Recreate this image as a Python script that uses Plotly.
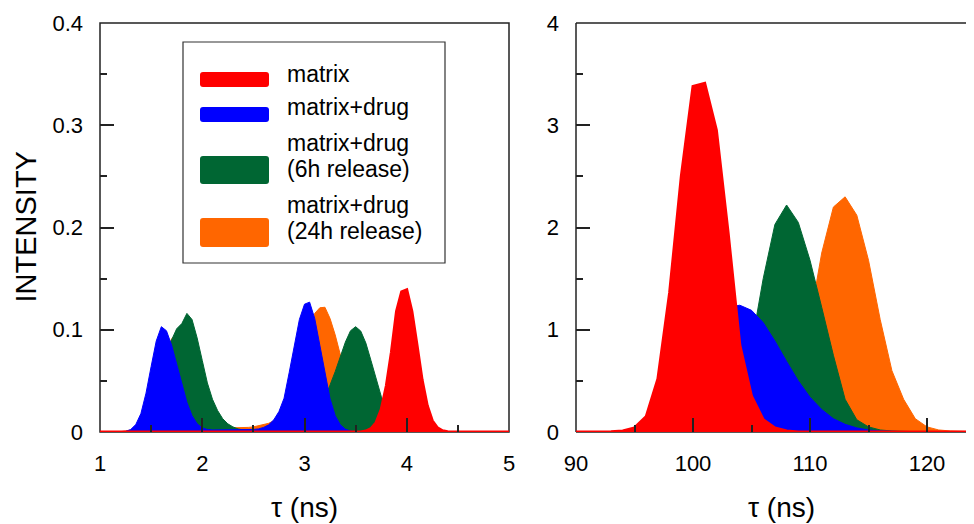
import numpy as np
import plotly.graph_objects as go

# ---------------- data ----------------
# left panel: short lifetimes (ns), sampled every 0.05 ns from 1 to 5
tau_short = np.round(np.linspace(1.0, 5.0, 81), 2)

matrix_short = [0]*52 + [0.0009, 0.0032, 0.0092, 0.022, 0.045, 0.078, 0.118, 0.137, 0.139,
                         0.118, 0.085, 0.051, 0.026, 0.011, 0.004, 0.0012, 0.0003] + [0]*12

drug_short = [0, 0, 0, 0, 0.0002, 0.0006, 0.0024, 0.0073, 0.018, 0.038, 0.064, 0.089, 0.103,
              0.099, 0.085, 0.066, 0.046, 0.029, 0.016, 0.008, 0.004, 0.0025, 0.002, 0.002,
              0.002, 0.002, 0.002, 0.002, 0.002, 0.002, 0.0025, 0.003, 0.0045, 0.007, 0.012,
              0.02, 0.033, 0.058, 0.085, 0.11, 0.125, 0.127, 0.111, 0.085, 0.056, 0.0325,
              0.016, 0.007, 0.0027, 0.001, 0.0003] + [0]*30

drug6h_short = [0, 0, 0, 0, 0, 0.0005, 0.001, 0.003, 0.008, 0.016, 0.028, 0.045, 0.063, 0.078,
                0.09, 0.101, 0.106, 0.116, 0.11, 0.092, 0.07, 0.048, 0.032, 0.021, 0.013, 0.008,
                0.005, 0.003, 0.002, 0.0015, 0.0012, 0.001, 0.001, 0.001, 0.001, 0.001, 0.001,
                0.0012, 0.0015, 0.002, 0.003, 0.006, 0.012, 0.021, 0.033, 0.046, 0.059, 0.074,
                0.088, 0.099, 0.103, 0.0987, 0.087, 0.07, 0.052, 0.035, 0.022, 0.0124, 0.0065,
                0.0031, 0.0014, 0.0006, 0.0002] + [0]*18

drug24h_short = [0, 0, 0, 0, 0.0003, 0.001, 0.002, 0.004, 0.008, 0.015, 0.027, 0.043, 0.062,
                 0.08, 0.091, 0.096, 0.096, 0.088, 0.072, 0.054, 0.037, 0.024, 0.015, 0.009,
                 0.006, 0.004, 0.004, 0.004, 0.004, 0.0045, 0.005, 0.006, 0.007, 0.0085, 0.011,
                 0.016, 0.025, 0.037, 0.052, 0.07, 0.088, 0.104, 0.116, 0.1215, 0.122, 0.111,
                 0.095, 0.075, 0.055, 0.037, 0.023, 0.013, 0.007, 0.003, 0.0015, 0.0005] + [0]*25

# right panel: long lifetimes (ns), sampled every 1 ns from 90 to 125
tau_long = list(range(90, 126))

matrix_long = [0, 0, 0, 0.003, 0.01, 0.04, 0.15, 0.52, 1.36, 2.5, 3.38, 3.41, 2.95, 1.95, 0.85,
               0.35, 0.12, 0.04, 0.01] + [0]*17

drug_long = [0.002, 0.002, 0.003, 0.005, 0.01, 0.03, 0.07, 0.15, 0.3, 0.5, 0.72, 0.95, 1.12,
             1.22, 1.24, 1.19, 1.07, 0.89, 0.69, 0.5, 0.34, 0.22, 0.13, 0.075, 0.04, 0.02, 0.01,
             0.005, 0.002] + [0]*7

drug6h_long = [0, 0, 0, 0, 0.005, 0.01, 0.02, 0.04, 0.07, 0.12, 0.19, 0.28, 0.4, 0.55, 0.75,
               0.85, 1.5, 2.03, 2.22, 2.05, 1.68, 1.22, 0.75, 0.32, 0.12, 0.05, 0.02, 0.01,
               0.005] + [0]*7

drug24h_long = [0, 0, 0, 0, 0, 0, 0, 0.002, 0.004, 0.006, 0.01, 0.02, 0.04, 0.07, 0.11, 0.17,
                0.26, 0.38, 0.52, 0.75, 1.1, 1.75, 2.2, 2.3, 2.12, 1.68, 1.1, 0.6, 0.32, 0.13,
                0.05, 0.02, 0.01, 0.005, 0, 0]

series_names = ["matrix", "matrix+drug", "matrix+drug\n(6h release)", "matrix+drug\n(24h release)"]
colors = ["#FF0000", "#0000FF", "#006633", "#FF6600"]

# ---------------- figure ----------------
WIN_W, WIN_H = 974, 524
OFF = 8  # page body margin offset
W, H = WIN_W - OFF, WIN_H - OFF
FONT = "Liberation Sans, Arial, sans-serif"
AX = "#222222"


def px(p):
    return (p - OFF) / W


def py(p):
    return 1 - (p - OFF) / H


fig = go.Figure()

short = [matrix_short, drug_short, drug6h_short, drug24h_short]
long_ = [matrix_long, drug_long, drug6h_long, drug24h_long]
# draw order: 24h, 6h, drug, matrix (matrix on top)
for idx in [3, 2, 1, 0]:
    lw = 3 if idx == 0 else 1
    fig.add_trace(go.Scatter(x=tau_short, y=short[idx], mode="lines", fill="tozeroy",
                             fillcolor=colors[idx], line=dict(color=colors[idx], width=lw),
                             xaxis="x", yaxis="y", showlegend=False, hoverinfo="skip"))
for idx in [3, 2, 1, 0]:
    lw = 3 if idx == 0 else 1
    fig.add_trace(go.Scatter(x=tau_long, y=long_[idx], mode="lines", fill="tozeroy",
                             fillcolor=colors[idx], line=dict(color=colors[idx], width=lw),
                             xaxis="x2", yaxis="y2", showlegend=False, hoverinfo="skip"))

ydom = [py(432), py(23)]
common = dict(showgrid=False, zeroline=False, showline=False, ticks="inside", ticklen=14,
              tickwidth=2, tickcolor=AX, tickfont=dict(size=22, color="black", family=FONT),
              ticklabelstandoff=16, layer="above traces", automargin=False)

fig.update_layout(
    width=W, height=H, margin=dict(l=0, r=0, t=0, b=0, pad=0, autoexpand=False),
    paper_bgcolor="white", plot_bgcolor="white",
    font=dict(family=FONT, color="black"),
    xaxis=dict(domain=[px(100), px(509)], range=[1, 5], tickvals=[1, 2, 3, 4, 5], anchor="y",
               minor=dict(ticks="inside", ticklen=7, tickwidth=2, tickcolor=AX, dtick=0.5, tick0=1),
               **common),
    yaxis=dict(domain=ydom, range=[0, 0.4], tickvals=[0, 0.1, 0.2, 0.3, 0.4],
               ticktext=["0", "0.1", "0.2", "0.3", "0.4"], anchor="x",
               minor=dict(ticks="inside", ticklen=7, tickwidth=2, tickcolor=AX, dtick=0.05, tick0=0),
               **common),
    xaxis2=dict(domain=[px(576), 1.0], range=[90, 90 + (WIN_W - 576) / 11.7],
                tickvals=[90, 100, 110, 120], anchor="y2",
                minor=dict(ticks="inside", ticklen=7, tickwidth=2, tickcolor=AX, dtick=5, tick0=90),
                **common),
    yaxis2=dict(domain=ydom, range=[0, 4], tickvals=[0, 1, 2, 3, 4], anchor="x2",
                minor=dict(ticks="inside", ticklen=7, tickwidth=2, tickcolor=AX, dtick=0.5, tick0=0),
                **common),
)

shapes = []
# frames (below traces so the matrix baseline covers the bottom line)
shapes.append(dict(type="rect", xref="x domain", yref="y domain", x0=0, x1=1, y0=0, y1=1,
                   line=dict(color=AX, width=1.5), layer="below"))
for (x0, y0, x1, y1) in [(0, 0, 0, 1), (0, 1, 1, 1), (0, 0, 1, 0)]:
    shapes.append(dict(type="line", xref="x2 domain", yref="y2 domain", x0=x0, x1=x1, y0=y0, y1=y1,
                       line=dict(color=AX, width=1.5), layer="below"))

# legend box
shapes.append(dict(type="rect", xref="paper", yref="paper", x0=px(183), x1=px(445),
                   y0=py(263), y1=py(42), line=dict(color="#333333", width=1.2),
                   fillcolor="white", layer="above"))


def rounded(x0, y0, x1, y1, r=3):
    rx, ry = r / W, r / H
    X0, X1 = px(x0), px(x1)
    Y0, Y1 = py(y1), py(y0)  # paper: Y0 bottom, Y1 top
    return (f"M {X0+rx},{Y0} L {X1-rx},{Y0} Q {X1},{Y0} {X1},{Y0+ry} "
            f"L {X1},{Y1-ry} Q {X1},{Y1} {X1-rx},{Y1} L {X0+rx},{Y1} "
            f"Q {X0},{Y1} {X0},{Y1-ry} L {X0},{Y0+ry} Q {X0},{Y0} {X0+rx},{Y0} Z")


swatches = [(72, 87), (107, 122), (156, 184), (218, 247)]
text_lines = [[74], [107], [142.5, 168.5], [205, 231]]
annotations = []
for i, ((t0, t1), ys) in enumerate(zip(swatches, text_lines)):
    shapes.append(dict(type="path", xref="paper", yref="paper", path=rounded(200, t0, 269, t1),
                       fillcolor=colors[i], line=dict(width=0), layer="above"))
    for line, yy in zip(series_names[i].split("\n"), ys):
        annotations.append(dict(xref="paper", yref="paper", x=px(285), y=py(yy), xanchor="left",
                                yanchor="middle", text=line, showarrow=False,
                                font=dict(size=23, family=FONT, color="black")))

# axis titles
annotations.append(dict(xref="paper", yref="paper", x=px(25), y=py(227.5), text="INTENSITY",
                        textangle=-90, showarrow=False, xanchor="center", yanchor="middle",
                        font=dict(size=29, family=FONT, color="black")))
for cx in [304.5, 781]:
    annotations.append(dict(xref="paper", yref="paper", x=px(cx), y=py(507), text="τ (ns)",
                            showarrow=False, xanchor="center", yanchor="middle",
                            font=dict(size=28, family=FONT, color="black")))

fig.update_layout(shapes=shapes, annotations=annotations)
fig.write_html("out.html")
